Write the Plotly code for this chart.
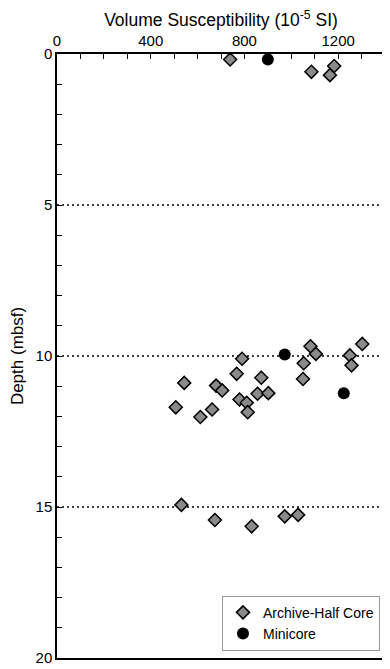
import plotly.graph_objects as go

archive_x = [739, 1086, 1183, 1165,
             1303, 1082, 1105, 1053, 1250, 1257, 1050,
             790, 767, 872, 543, 679, 705, 856, 902, 779, 810, 814, 507, 662, 612,
             531, 674, 831, 972, 1029]
archive_depth = [0.18, 0.59, 0.40, 0.70,
                 9.60, 9.68, 9.93, 10.24, 9.98, 10.31, 10.76,
                 10.09, 10.59, 10.72, 10.89, 10.98, 11.14, 11.25, 11.23, 11.44, 11.55, 11.86, 11.70, 11.77, 12.02,
                 14.93, 15.43, 15.64, 15.31, 15.26]
mini_x = [900, 972, 1224]
mini_depth = [0.18, 9.95, 11.23]
ref_depths = [5, 10, 15]

fig = go.Figure()
fig.add_trace(go.Scatter(x=archive_x, y=archive_depth, mode="markers", name="Archive-Half Core",
                         marker=dict(symbol="diamond", size=10, color="#8a8a8a",
                                     line=dict(color="black", width=1.5))))
fig.add_trace(go.Scatter(x=mini_x, y=mini_depth, mode="markers", name="Minicore",
                         marker=dict(symbol="circle", size=12, color="black",
                                     line=dict(color="black", width=0))))

for d in ref_depths:
    fig.add_shape(type="line", xref="paper", x0=0, x1=1, yref="y", y0=d, y1=d,
                  line=dict(color="black", width=1.3, dash="2px,3px"), layer="below")

font = "Liberation Sans, Arial, Helvetica, sans-serif"
# The page body has an 8px margin, so the figure is sized to fit inside the window.
fig.update_layout(
    width=382, height=661,
    margin=dict(l=49, r=5, t=46, b=11, autoexpand=False),
    paper_bgcolor="white", plot_bgcolor="white",
    font=dict(family=font, size=14, color="black"),
    showlegend=True,
    legend=dict(x=0.503, y=0.012, xanchor="left", yanchor="bottom",
                bordercolor="#999999", borderwidth=1, bgcolor="white",
                font=dict(size=14), tracegroupgap=0, itemsizing="trace"),
    xaxis=dict(range=[0, 1400], side="top", tickvals=[0, 400, 800, 1200],
               ticks="inside", ticklen=5, tickcolor="black", showline=True,
               linecolor="black", linewidth=1.5, mirror=True, showgrid=False, zeroline=False,
               automargin=False,
               minor=dict(dtick=100, ticks="inside", ticklen=5, tickcolor="black", showgrid=False),
               title=dict(text="Volume Susceptibility (10<sup>-5</sup> SI)", font=dict(size=17.5), standoff=4),
               tickfont=dict(size=15)),
    yaxis=dict(range=[20, 0], tickvals=[0, 5, 10, 15, 20],
               ticks="inside", ticklen=5, tickcolor="black", showline=True,
               linecolor="black", linewidth=1.5, mirror=True, showgrid=False, zeroline=False,
               automargin=False,
               minor=dict(dtick=1, ticks="inside", ticklen=5, tickcolor="black", showgrid=False),
               title=dict(text="Depth (mbsf)", font=dict(size=17), standoff=13),
               tickfont=dict(size=15)),
)

fig.write_html("out.html")
